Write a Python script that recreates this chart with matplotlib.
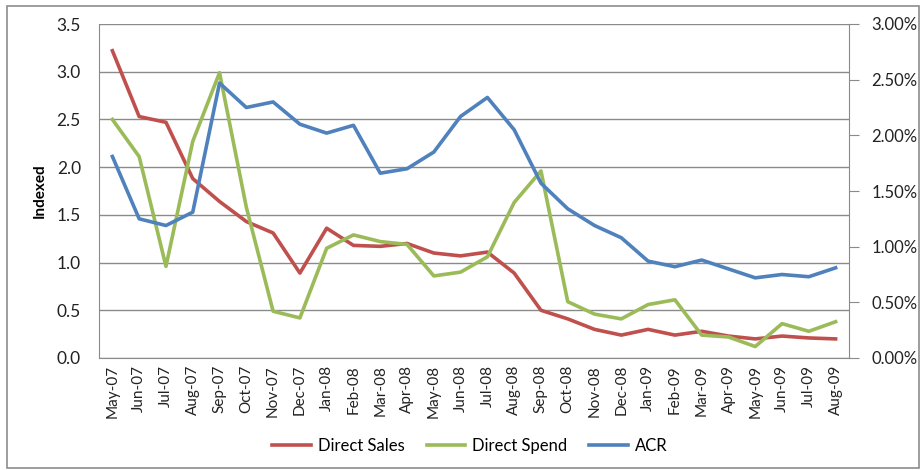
import matplotlib
matplotlib.use("Agg")
import matplotlib.pyplot as plt
from matplotlib.patches import Rectangle
from matplotlib.ticker import FuncFormatter, MultipleLocator

months = ["May-07", "Jun-07", "Jul-07", "Aug-07", "Sep-07", "Oct-07", "Nov-07",
          "Dec-07", "Jan-08", "Feb-08", "Mar-08", "Apr-08", "May-08", "Jun-08",
          "Jul-08", "Aug-08", "Sep-08", "Oct-08", "Nov-08", "Dec-08", "Jan-09",
          "Feb-09", "Mar-09", "Apr-09", "May-09", "Jun-09", "Jul-09", "Aug-09"]

direct_sales = [3.22, 2.53, 2.47, 1.88, 1.64, 1.43, 1.31, 0.89, 1.36, 1.18,
                1.17, 1.20, 1.10, 1.07, 1.11, 0.89, 0.50, 0.41, 0.30, 0.24,
                0.30, 0.24, 0.28, 0.23, 0.20, 0.23, 0.21, 0.20]

direct_spend = [2.50, 2.11, 0.96, 2.27, 2.99, 1.58, 0.49, 0.42, 1.15, 1.29,
                1.22, 1.19, 0.86, 0.90, 1.06, 1.63, 1.96, 0.59, 0.46, 0.41,
                0.56, 0.61, 0.24, 0.22, 0.12, 0.36, 0.28, 0.38]

acr_pct = [1.81, 1.25, 1.19, 1.31, 2.47, 2.25, 2.30, 2.10, 2.02, 2.09,
           1.66, 1.70, 1.85, 2.17, 2.34, 2.05, 1.57, 1.34, 1.19, 1.08,
           0.87, 0.82, 0.88, 0.80, 0.72, 0.75, 0.73, 0.81]

plt.rcParams['font.family'] = ['Lato', 'DejaVu Sans']

W, H = 922, 470
fig = plt.figure(figsize=(W / 100, H / 100), dpi=100)

# outer chart frame
fig.patches.append(Rectangle((7 / W, 1 - 468 / H), (919 - 7) / W, (468 - 6) / H,
                             transform=fig.transFigure, fill=False,
                             edgecolor="#8c8c8c", linewidth=1.2))

left, right, top, bottom = 99, 849, 24, 358
ax = fig.add_axes([left / W, 1 - bottom / H, (right - left) / W, (bottom - top) / H])
ax2 = ax.twinx()

grid_c = "#8a8a8a"
text_c = "#222222"
x = range(len(months))

l1, = ax.plot(x, direct_sales, color="#C0504D", lw=2.6, label="Direct Sales",
              solid_joinstyle="round")
l2, = ax.plot(x, direct_spend, color="#9BBB59", lw=2.6, label="Direct Spend",
              solid_joinstyle="round")
l3, = ax2.plot(x, acr_pct, color="#4F81BD", lw=2.6, label="ACR",
               solid_joinstyle="round")

ax.set_xlim(-0.5, len(months) - 0.5)
ax.set_ylim(0, 3.5)
ax.yaxis.set_major_locator(MultipleLocator(0.5))
ax.yaxis.set_major_formatter(FuncFormatter(lambda v, p: f"{v:.1f}"))
ax2.set_ylim(0, 3.0)
ax2.yaxis.set_major_locator(MultipleLocator(0.5))
ax2.yaxis.set_major_formatter(FuncFormatter(lambda v, p: f"{v:.2f}%"))

ax.grid(axis="y", color=grid_c, lw=1.0)
ax.set_axisbelow(True)
ax.set_xticks(list(x))
ax.set_xticklabels(months, rotation=90, fontsize=11, color=text_c)

for a in (ax, ax2):
    for s in a.spines.values():
        s.set_visible(False)
ax.spines["left"].set_visible(True)
ax.spines["left"].set_color(grid_c)
ax.spines["bottom"].set_visible(True)
ax.spines["bottom"].set_color(grid_c)
ax2.spines["right"].set_visible(True)
ax2.spines["right"].set_color(grid_c)

ax.tick_params(axis="y", length=0, labelsize=12.5, pad=13, colors=text_c)
ax.tick_params(axis="x", length=0, pad=5)
ax2.tick_params(axis="y", length=7, color=grid_c, labelsize=12, pad=9,
                labelcolor=text_c)

ax.set_ylabel("Indexed", fontsize=11, fontweight="bold", labelpad=7)

fig.legend(handles=[l1, l2, l3], loc="center", ncol=3, frameon=False,
           bbox_to_anchor=(470 / W, 1 - 446 / H), fontsize=12,
           handlelength=2.3, columnspacing=1.3, handletextpad=0.45)

fig.savefig("out.png", dpi=100)
